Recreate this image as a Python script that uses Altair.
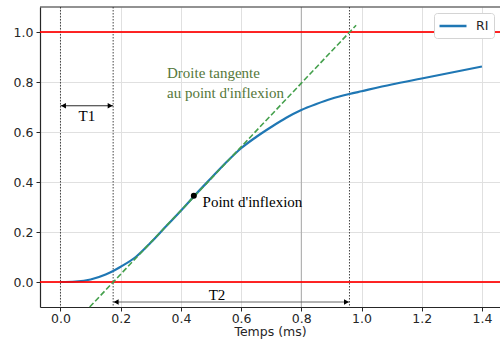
import altair as alt
import pandas as pd

# Step response of the system (time in ms)
t_ms = [0.0, 0.05, 0.1, 0.15, 0.175, 0.2, 0.25, 0.3, 0.35, 0.4, 0.445, 0.5, 0.55,
        0.6, 0.65, 0.7, 0.75, 0.8, 0.85, 0.9, 0.96, 1.0, 1.1, 1.2, 1.3, 1.4]
ri = [0.0, 0.002, 0.01, 0.03, 0.044, 0.061, 0.1, 0.158, 0.222, 0.285, 0.345, 0.415, 0.478,
      0.535, 0.58, 0.62, 0.657, 0.688, 0.712, 0.733, 0.752, 0.763, 0.79, 0.814, 0.838, 0.862]

# Tangent at the inflection point (end points)
tan_x = [0.097, 0.982]
tan_y = [-0.1, 1.027]

# Inflection point
infl_x = [0.443]
infl_y = [0.345]

# Reference levels and characteristic times
levels = [0.0, 1.0]
t_marks = [0.0, 0.175, 0.96]

# Arrows: name, start, end, height, label x, label y
arrow_names = ["T1", "T2"]
arrow_start = [0.0, 0.175]
arrow_end = [0.175, 0.96]
arrow_y = [0.705, -0.08]
label_x = [0.0875, 0.52]
label_y = [0.665, -0.052]
arrow_colors = ["#111111", "#555555"]

x_ticks = [0.0, 0.2, 0.4, 0.6, 0.8, 1.0, 1.2, 1.4]
y_ticks = [0.0, 0.2, 0.4, 0.6, 0.8, 1.0]

x_scale = alt.Scale(domain=[-0.068, 1.46], nice=False, zero=False)
y_scale = alt.Scale(domain=[-0.1, 1.1], nice=False, zero=False)
x_axis = alt.Axis(values=x_ticks, format=".1f", title="Temps (ms)", grid=True)
y_axis = alt.Axis(values=y_ticks, format=".1f", title=None, grid=True)


def X(field):
    return alt.X(field, scale=x_scale, axis=x_axis)


def Y(field):
    return alt.Y(field, scale=y_scale, axis=y_axis)


curve_df = pd.DataFrame({"t": t_ms, "v": ri, "serie": ["RI"] * len(t_ms)})
tan_df = pd.DataFrame({"t": tan_x, "v": tan_y})
infl_df = pd.DataFrame({"t": infl_x, "v": infl_y})
level_df = pd.DataFrame({"v": levels})
mark_df = pd.DataFrame({"t": t_marks})
arrow_df = pd.DataFrame({"name": arrow_names, "t0": arrow_start, "t1": arrow_end,
                         "v": arrow_y, "lx": label_x, "ly": label_y, "c": arrow_colors})

serif = "Liberation Serif"
sans = "DejaVu Sans"

# Legend swatch: a flat horizontal stroke so the row stays one text line tall
curve = alt.Chart(curve_df).mark_line(strokeWidth=2.2, interpolate="monotone").encode(
    x=X("t:Q"),
    y=Y("v:Q"),
    color=alt.Color("serie:N", scale=alt.Scale(domain=["RI"], range=["#1f77b4"]),
                    legend=alt.Legend(title=None, orient="top-right", offset=6,
                                      symbolType="M-2,0H2", symbolSize=182,
                                      symbolStrokeWidth=2.5, symbolStrokeColor="#1f77b4",
                                      symbolFillColor="transparent", symbolOffset=6,
                                      labelFont=sans, labelFontSize=12.5,
                                      labelColor="#262626", labelOffset=15,
                                      fillColor="white", strokeColor="#d4d4d4",
                                      cornerRadius=3, padding=5)),
)

# Darker grid line at 0.8
grid_08 = alt.Chart(pd.DataFrame({"t": [0.8]})).mark_rule(color="#a8a8a8", strokeWidth=1).encode(
    x=X("t:Q"))

# Top frame line
frame_top = alt.Chart(pd.DataFrame({"v": [1.1]})).mark_rule(color="#262626", strokeWidth=1.2).encode(
    y=Y("v:Q"))

verticals = alt.Chart(mark_df).mark_rule(color="#444444", strokeWidth=1, strokeDash=[1.5, 1.5]).encode(
    x=X("t:Q"))

red_levels = alt.Chart(level_df).mark_rule(color="#ff0000", strokeWidth=1.8, opacity=0.85).encode(
    y=Y("v:Q"))

tangent = alt.Chart(tan_df).mark_line(color="#44a04c", strokeWidth=1.6, strokeDash=[5.5, 2.5]).encode(
    x=X("t:Q"), y=Y("v:Q"))

infl_dot = alt.Chart(infl_df).mark_point(filled=True, color="black", size=36, opacity=1).encode(
    x=X("t:Q"), y=Y("v:Q"))

infl_text = alt.Chart(pd.DataFrame({"t": [0.472], "v": [0.321], "txt": ["Point d'inflexion"]})).mark_text(
    font=serif, fontSize=15, align="left", baseline="middle", color="black").encode(
    x=X("t:Q"), y=Y("v:Q"), text="txt:N")

tan_text = alt.Chart(pd.DataFrame({"t": [0.354, 0.354], "v": [0.835, 0.757],
                                   "txt": ["Droite tangente", "au point d'inflexion"]})).mark_text(
    font=serif, fontSize=15, align="left", baseline="middle", color="#55773a").encode(
    x=X("t:Q"), y=Y("v:Q"), text="txt:N")

shafts = alt.Chart(arrow_df).mark_rule(strokeWidth=0.9).encode(
    x=X("t0:Q"), x2="t1:Q", y=Y("v:Q"),
    color=alt.Color("c:N", scale=None, legend=None))

heads_left = alt.Chart(arrow_df).mark_point(shape="triangle-left", filled=True, size=32,
                                            xOffset=3, color="black", opacity=1).encode(
    x=X("t0:Q"), y=Y("v:Q"))

heads_right = alt.Chart(arrow_df).mark_point(shape="triangle-right", filled=True, size=32,
                                             xOffset=-3, color="black", opacity=1).encode(
    x=X("t1:Q"), y=Y("v:Q"))

arrow_labels = alt.Chart(arrow_df).mark_text(font=serif, fontSize=15, align="center",
                                             baseline="middle", color="black").encode(
    x=X("lx:Q"), y=Y("ly:Q"), text="name:N")

chart = alt.layer(
    grid_08, verticals, curve, red_levels, tangent, infl_dot, infl_text, tan_text,
    shafts, heads_left, heads_right, arrow_labels, frame_top,
).resolve_scale(color="independent").properties(
    width=460, height=300,
    autosize=alt.AutoSizeParams(type="none"),
    padding={"left": 40, "top": 7, "right": 0, "bottom": 33},
    background="white",
).configure_view(
    stroke=None
).configure_axis(
    labelFont=sans, labelFontSize=12.5, labelColor="#262626",
    titleFont=sans, titleFontSize=12.5, titleFontWeight="normal", titleColor="#262626",
    tickColor="#262626", tickSize=4, domainColor="#262626", domainWidth=1.2,
    gridColor="#e0e0e0", gridWidth=1,
).configure_axisX(labelPadding=1, titlePadding=1).configure_axisY(labelPadding=3)

chart.save("out.html", embed_options={"renderer": "svg", "actions": False})
